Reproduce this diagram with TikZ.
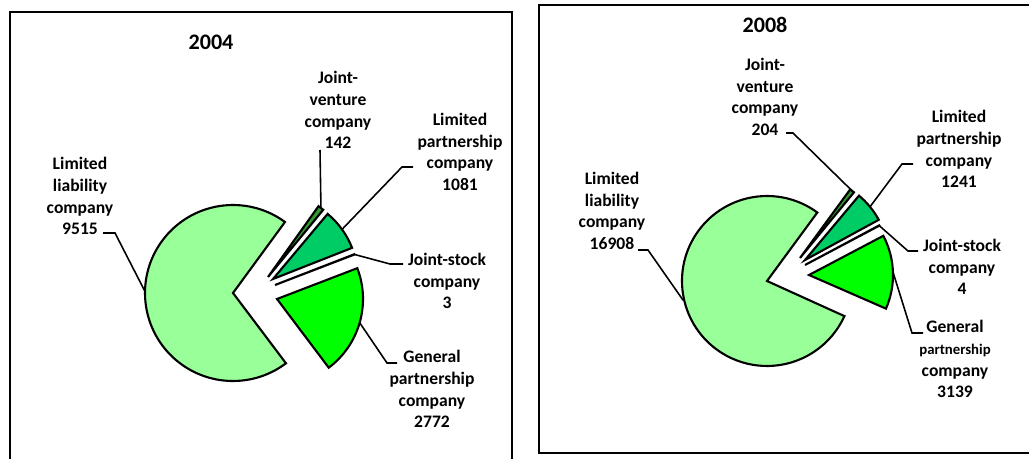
\documentclass[tikz,border=0pt]{standalone}
\usepackage{fontspec}
\setmainfont{Carlito}
\usetikzlibrary{calc}

\definecolor{llcgreen}{HTML}{99FF99}
\definecolor{lpgreen}{HTML}{00CC66}
\definecolor{gpgreen}{HTML}{00FF00}
\definecolor{jvgreen}{HTML}{339933}
\definecolor{jsgreen}{HTML}{009966}

\begin{document}
\begin{tikzpicture}[x=0.02cm, y=0.02cm,
    slice/.style={draw=black, line width=1.2pt, line join=miter},
    lead/.style={draw=black, line width=0.9pt},
    lbl/.style={font=\bfseries\fontsize{10}{12.4}\selectfont, align=center, inner sep=0pt},
    year/.style={font=\bfseries\fontsize{12.6}{14}\selectfont, inner sep=0pt},
    panel/.style={draw=black, line width=1.6pt}]
    \useasboundingbox (0,0) rectangle (1029,458);

    % 2004
    \coordinate (llc04) at (233,165);
    \coordinate (jv04) at (268,181);
    \coordinate (lp04) at (273,179);
    \coordinate (js04) at (275,173);
    \coordinate (gp04) at (277,159);

    \draw[panel] (10,-20) rectangle (512,446);
    \node[year] (title04) at (211,416) {2004};

    \draw[slice, fill=llcgreen] (llc04) -- ++(53.8:88)
        arc[start angle=53.8, end angle=307, radius=88] -- cycle;
    \draw[slice, fill=jvgreen] (jv04) -- ++(50.6:87)
        arc[start angle=50.6, end angle=54.5, radius=87] -- cycle;
    \draw[slice, fill=lpgreen] (lp04) -- ++(21.5:85)
        arc[start angle=21.5, end angle=50, radius=85] -- cycle;
    \draw[slice, fill=jsgreen] (js04) -- ++(21:85)
        arc[start angle=21, end angle=21.2, radius=85] -- cycle;
    \draw[slice, fill=gpgreen] (gp04) -- ++(-53:86)
        arc[start angle=-53, end angle=21, radius=86] -- cycle;

    \node[lbl] (llclbl04) at (80,262) {Limited\\liability\\company\\9515};
    \node[lbl] (jvlbl04) at (338,348) {Joint-\\venture\\company\\142};
    \node[lbl] (lplbl04) at (460,306) {Limited\\partnership\\company\\1081};
    \node[lbl] (jslbl04) at (447,177) {Joint-stock\\company\\3};
    \node[lbl] (gplbl04) at (432,69) {General\\partnership\\company\\2772};

    \coordinate (llc04a) at (103,225);
    \coordinate (jv04a) at (320,308);
    \coordinate (lp04a) at (413,291);
    \coordinate (js04a) at (403,194);
    \coordinate (gp04a) at (397,95);

    \draw[lead] (llc04a) -- ++(12,0) -- ($(llc04)+(179:88)$);
    \draw[lead] (jv04a) -- ($(jv04)+(52.5:87)$);
    \draw[lead] (lp04a) -- ++(-11,0) -- ($(lp04)+(35.7:85)$);
    \draw[lead] (js04a) -- ++(-13,0) -- ($(js04)+(21.1:85)$);
    \draw[lead] (gp04a) -- ++(-10,0) -- ($(gp04)+(-16:86)$);

    % 2008
    \coordinate (llc08) at (767,177);
    \coordinate (jv08) at (800,200);
    \coordinate (lp08) at (805,198);
    \coordinate (js08) at (805,193);
    \coordinate (gp08) at (809,183);

    \draw[panel] (539,5) rectangle (1045,453);
    \node[year] (title08) at (765,433) {2008};

    \draw[slice, fill=llcgreen] (llc08) -- ++(53.7:85)
        arc[start angle=53.7, end angle=335.6, radius=85] -- cycle;
    \draw[slice, fill=jvgreen] (jv08) -- ++(50.6:85)
        arc[start angle=50.6, end angle=53.8, radius=85] -- cycle;
    \draw[slice, fill=lpgreen] (lp08) -- ++(28.6:84)
        arc[start angle=28.6, end angle=50, radius=84] -- cycle;
    \draw[slice, fill=jsgreen] (js08) -- ++(27.9:84)
        arc[start angle=27.9, end angle=28.1, radius=84] -- cycle;
    \draw[slice, fill=gpgreen] (gp08) -- ++(-23.6:84)
        arc[start angle=-23.6, end angle=27.8, radius=84] -- cycle;

    \node[lbl] (llclbl08) at (612,247) {Limited\\liability\\company\\16908};
    \node[lbl] (jvlbl08) at (765,361) {Joint-\\venture\\company\\204};
    \node[lbl] (lplbl08) at (959,309) {Limited\\partnership\\company\\1241};
    \node[lbl] (jslbl08) at (962,191) {Joint-stock\\company\\4};
    \node[lbl] (gplbl08) at (955,99) {General\\{\fontsize{8.4}{10}\selectfont partnership}\\company\\3139};

    \coordinate (llc08a) at (638,208);
    \coordinate (jv08a) at (786,325);
    \coordinate (lp08a) at (913,294);
    \coordinate (js08a) at (918,207);
    \coordinate (gp08a) at (923,125);

    \draw[lead] (llc08a) -- ++(10,0) -- ($(llc08)+(193:86)$);
    \draw[lead] (jv08a) -- ++(7,0) -- ($(jv08)+(52.2:85)$);
    \draw[lead] (lp08a) -- ++(-11,0) -- ($(lp08)+(39.3:84)$);
    \draw[lead] (js08a) -- ++(-10,0) -- ($(js08)+(28:84)$);
    \draw[lead] (gp08a) -- ++(-11,0) -- ($(gp08)+(2.1:84)$);
\end{tikzpicture}
\end{document}
